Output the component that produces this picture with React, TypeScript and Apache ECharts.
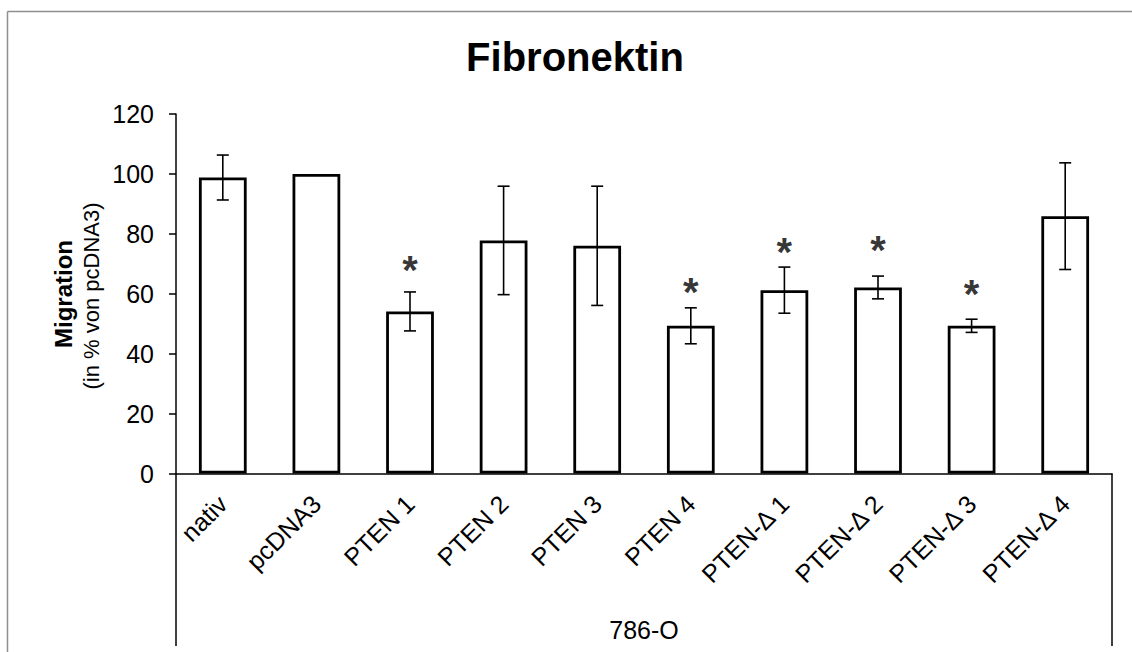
import React, { useEffect, useRef } from "react";
import * as echarts from "echarts";

// Migration on fibronectin, relative to pcDNA3 (mean ± error), 786-O cells
const categories = [
  "nativ",
  "pcDNA3",
  "PTEN 1",
  "PTEN 2",
  "PTEN 3",
  "PTEN 4",
  "PTEN-Δ 1",
  "PTEN-Δ 2",
  "PTEN-Δ 3",
  "PTEN-Δ 4",
];
const migration = [98.8, 100, 54.1, 77.8, 76.0, 49.3, 61.2, 62.1, 49.3, 85.9];
const errors = [7.5, 0, 6.5, 18.1, 19.9, 6.0, 7.7, 3.8, 2.2, 17.8];
// height (in %) at which each significance asterisk sits; null = not significant
const starLevels = [null, null, 71.0, null, null, 63.5, 76.8, 77.6, 62.9, null];
const yMin = 0;
const yMax = 120;
const yStep = 20;
const groupLabel = "786-O";
const title = "Fibronektin";
const yTitle = "Migration";
const ySubTitle = "(in % von pcDNA3)";

const W = 1132;
const H = 652;
const GRID = { left: 176, right: 20, top: 114, bottom: 178.5 };
const FONT = "'Liberation Sans', Arial, Helvetica, sans-serif";
const FRAME = "#8f8f8f";

export default function App() {
  const ref = useRef<HTMLDivElement>(null);

  useEffect(() => {
    document.body.style.margin = "0";
    document.body.style.overflow = "hidden";
    if (!ref.current) return;
    const chart = echarts.init(ref.current, undefined, { renderer: "svg" });

    const axisY = H - GRID.bottom;
    const axisLeft = GRID.left;
    const axisRight = W - GRID.right;
    const boxBottom = 646;

    const option: echarts.EChartsOption = {
      animation: false,
      backgroundColor: "#ffffff",
      textStyle: { fontFamily: FONT },
      grid: { ...GRID, containLabel: false },
      xAxis: {
        type: "category",
        data: categories,
        axisLine: { show: true, lineStyle: { color: "#000", width: 1.5 } },
        axisTick: { show: false },
        axisLabel: {
          rotate: 45,
          interval: 0,
          fontSize: 25,
          color: "#000",
          fontFamily: FONT,
          margin: 26,
          align: "right",
          verticalAlign: "middle",
        },
        splitLine: { show: false },
      },
      yAxis: {
        type: "value",
        min: yMin,
        max: yMax,
        interval: yStep,
        axisLine: { show: true, lineStyle: { color: "#000", width: 1.5 } },
        axisTick: { show: true, length: 7, inside: false, lineStyle: { color: "#000", width: 1.5 } },
        axisLabel: { fontSize: 25, color: "#000", fontFamily: FONT, margin: 22 },
        splitLine: { show: false },
      },
      series: [
        {
          type: "bar",
          data: migration,
          barWidth: "51%",
          itemStyle: { color: "#ffffff", borderColor: "#000", borderWidth: 2.8 },
          z: 2,
        },
        {
          type: "custom",
          data: migration.map((v, i) => [i, v, errors[i]]),
          z: 3,
          renderItem: (params: any, api: any) => {
            const idx = api.value(0);
            const v = api.value(1);
            const e = api.value(2);
            if (!e) return null;
            const top = api.coord([idx, v + e]);
            const bot = api.coord([idx, v - e]);
            const hw = 6;
            const st = { stroke: "#000", lineWidth: 1.6 };
            return {
              type: "group",
              children: [
                { type: "line", shape: { x1: top[0], y1: top[1], x2: bot[0], y2: bot[1] }, style: st },
                { type: "line", shape: { x1: top[0] - hw, y1: top[1], x2: top[0] + hw, y2: top[1] }, style: st },
                { type: "line", shape: { x1: bot[0] - hw, y1: bot[1], x2: bot[0] + hw, y2: bot[1] }, style: st },
              ],
            };
          },
        },
        {
          type: "scatter",
          data: starLevels.map((s, i) => (s == null ? [i, null] : [i, s])),
          symbol: "circle",
          symbolSize: 1,
          itemStyle: { color: "transparent" },
          z: 4,
          label: {
            show: true,
            position: "inside",
            formatter: "*",
            fontSize: 40,
            fontWeight: "bold",
            color: "#000",
            fontFamily: FONT,
            offset: [0, 9],
          },
        },
      ],
      graphic: [
        // outer chart-area border (continues past the right and bottom edges)
        {
          type: "line",
          shape: { x1: 7.5, y1: 11.5, x2: W, y2: 11.5 },
          style: { stroke: FRAME, lineWidth: 1.5 },
          silent: true,
        },
        {
          type: "line",
          shape: { x1: 7.5, y1: 11.5, x2: 7.5, y2: H },
          style: { stroke: FRAME, lineWidth: 1.5 },
          silent: true,
        },
        {
          type: "text",
          x: 575,
          y: 57,
          style: {
            text: title,
            font: `bold 40px ${FONT}`,
            fill: "#000",
            align: "center",
            verticalAlign: "middle",
          },
        },
        {
          type: "text",
          x: 63,
          y: 294,
          rotation: Math.PI / 2,
          style: {
            text: yTitle,
            font: `bold 24px ${FONT}`,
            fill: "#000",
            align: "center",
            verticalAlign: "middle",
          },
        },
        {
          type: "text",
          x: 91,
          y: 296,
          rotation: Math.PI / 2,
          style: {
            text: ySubTitle,
            font: `22px ${FONT}`,
            fill: "#000",
            align: "center",
            verticalAlign: "middle",
          },
        },
        {
          type: "line",
          shape: { x1: axisLeft, y1: axisY, x2: axisLeft, y2: boxBottom },
          style: { stroke: "#000", lineWidth: 1.5 },
        },
        {
          type: "line",
          shape: { x1: axisRight, y1: axisY, x2: axisRight, y2: boxBottom },
          style: { stroke: "#000", lineWidth: 1.5 },
        },
        {
          type: "text",
          x: (axisLeft + axisRight) / 2,
          y: 630,
          style: {
            text: groupLabel,
            font: `25px ${FONT}`,
            fill: "#000",
            align: "center",
            verticalAlign: "middle",
          },
        },
      ],
    };

    chart.setOption(option);
    return () => chart.dispose();
  }, []);

  return <div ref={ref} style={{ width: W, height: H, overflow: "hidden" }} />;
}
